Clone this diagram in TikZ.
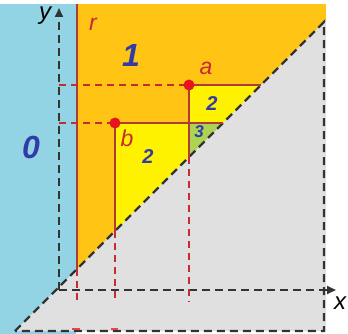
\documentclass[tikz,border=0pt]{standalone}
\definecolor{ciel}{RGB}{146,212,228}
\definecolor{orange}{RGB}{255,196,20}
\definecolor{jaune}{RGB}{255,242,0}
\definecolor{vertc}{RGB}{172,212,82}
\definecolor{gris}{RGB}{224,224,224}
\definecolor{rouge}{RGB}{230,20,30}
\definecolor{brun}{RGB}{175,60,60}
\definecolor{lettrec}{RGB}{200,40,55}
\definecolor{bleu}{RGB}{50,60,165}
\usepackage{fontspec}
\setmainfont{Liberation Sans}
\usepackage{tikz}
\usetikzlibrary{arrows.meta}

\begin{document}
\begin{tikzpicture}[x=1pt,y=-1pt,
		axe/.style={black!80,line width=2.2pt,dash pattern=on 8pt off 5pt},
		trait/.style={brun,line width=1.8pt},
		rappel/.style={brun!60!rouge,line width=1.8pt,dash pattern=on 7pt off 5pt},
		pt/.style={circle,fill=rouge,inner sep=0pt,minimum size=11pt},
		zone/.style={bleu,font=\bfseries\itshape\fontsize{#1}{#1}\selectfont},
		lettre/.style={lettrec,font=\itshape\fontsize{23}{23}\selectfont}]
				\useasboundingbox (0,0) rectangle (348,334);
				% coordonnees
				\coordinate (O) at (59,290);
				\coordinate (X) at (336,290);
				\coordinate (Y) at (59,8);
				\coordinate (D0) at (15,331);
				\coordinate (D1) at (324,22);
				\coordinate (C) at (324,331);
				\coordinate (rT) at (77,4);
				\coordinate (rD) at (77,269);
				\coordinate (rE) at (77,304);
				\coordinate (aP) at (189,85);
				\coordinate (aY) at (59,85);
				\coordinate (aD) at (261,85);
				\coordinate (aB) at (189,157);
				\coordinate (aE) at (189,302);
				\coordinate (bP) at (115,123);
				\coordinate (bY) at (59,123);
				\coordinate (bD) at (223,123);
				\coordinate (bB) at (115,231);
				\coordinate (bE) at (115,302);
				% zones
				\fill[ciel] (0,4) rectangle (76,334);
				\fill[orange] (78,4) rectangle (326,331);
				\fill[jaune] (bP) rectangle (326,331);
				\fill[jaune] (aP) rectangle (326,331);
				\fill[vertc] (189,123) rectangle (326,331);
				\fill[gris] (15,331)--(326,20)--(326,331)--cycle;
				% boite et axes
				\draw[axe] (D0)--(D1)--(C)--cycle;
				\draw[axe,-{Triangle[length=9pt,width=8pt]}] (O)--(X);
				\draw[axe,-{Triangle[length=9pt,width=8pt]}] (O)--(Y);
				% r, a, b
				\draw[trait] (rT)--(rD);
				\draw[rappel] (rD)--(rE);
				\draw[rappel] (aY)--(aP);
				\draw[rappel] (bY)--(bP);
				\draw[trait] (aP)--(aD);
				\draw[trait] (aP)--(aB);
				\draw[rappel] (aB)--(aE);
				\draw[trait] (bP)--(bD);
				\draw[trait] (bP)--(bB);
				\draw[rappel] (bB)--(bE);
				\draw[rouge!80,line width=2.5pt] (72,329)--(80,329) (111,329)--(118,329);
				\node[pt] (a) at (aP) {};
				\node[pt] (b) at (bP) {};
				% textes
				\node[font=\itshape\fontsize{24}{24}\selectfont] (ly) at (45,16) {y};
				\node[font=\itshape\fontsize{24}{24}\selectfont] (lx) at (340,303) {x};
				\node[lettre] (lr) at (93,24) {r};
				\node[lettre] (la) at (206,68) {a};
				\node[lettre] (lb) at (127,138) {b};
				\node[zone=32] (z1) at (131,55) {1};
				\node[zone=32] (z0) at (31,147) {0};
				\node[zone=20] (z2a) at (212,104) {2};
				\node[zone=20] (z2b) at (148,157) {2};
				\node[zone=17] (z3) at (199,132) {3};
			\end{tikzpicture}
\end{document}
